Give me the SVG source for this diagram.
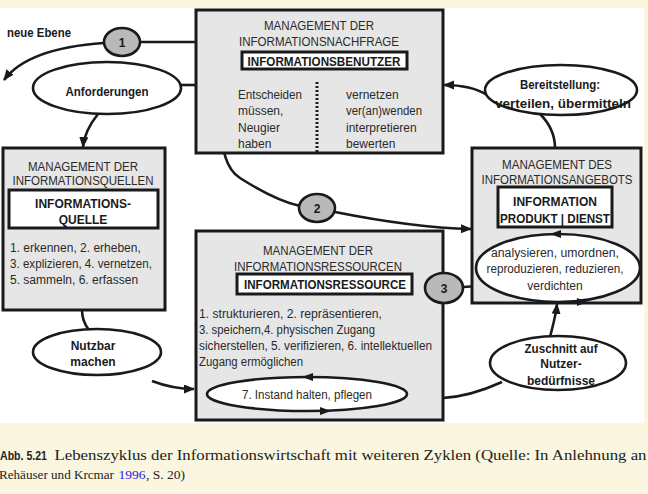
<svg xmlns="http://www.w3.org/2000/svg" width="648" height="494" viewBox="0 0 648 494">
<style>
text{font-family:"Liberation Sans",Arial,sans-serif;font-size:12px;fill:#2a2a2a}
.b{font-weight:bold;fill:#1a1a1a}
.c{text-anchor:middle}
.box{fill:#e6e6e6;stroke:#1a1a1a;stroke-width:3}
.inner{fill:#fff;stroke:#1a1a1a;stroke-width:3}
.ell{fill:#fff;stroke:#1a1a1a;stroke-width:2.6}
.num{fill:#b9b9b9;stroke:#1a1a1a;stroke-width:2.6}
.ln{fill:none;stroke:#1a1a1a;stroke-width:2.6}
.ah{fill:#1a1a1a}
.cap{font-family:"Liberation Serif","Times New Roman",serif;font-size:14px;fill:#222}
.cap2{font-family:"Liberation Serif","Times New Roman",serif;font-size:13.5px;fill:#222}
</style>
<defs>
<marker id="arr" markerUnits="userSpaceOnUse" markerWidth="12" markerHeight="10" refX="10" refY="4.5" orient="auto">
<path d="M0,0 L11,4.5 L0,9 z" fill="#1a1a1a"/>
</marker>
</defs>
<rect x="0" y="0" width="648" height="494" fill="#faf6e0"/>
<rect x="0" y="8" width="644" height="415" fill="#ffffff"/>

<g id="connectors">
<path class="ln" d="M140 42 L196 42"/>
<path class="ln" d="M104 43 C60 46,22 56,4 80" marker-end="url(#arr)"/>
<path class="ln" d="M181 85 L196 85"/>
<path class="ln" d="M98 114 C90 124,84 134,83 147" marker-end="url(#arr)"/>
<path class="ln" d="M487 95 C476 88,462 85,444 85" marker-end="url(#arr)"/>
<path class="ln" d="M540 114 C550 124,555 136,555 148"/>
<path class="ln" d="M243 69 C220 95,212 160,240 178 C262 192,282 202,300 206"/>
<path class="ln" d="M335 212 C385 222,430 228,471 229" marker-end="url(#arr)"/>
<path class="ln" d="M463 287 L479 286"/>
<path class="ln" d="M430 297 C424 301,419 306,417 316" marker-end="url(#arr)"/>
<path class="ln" d="M82 310 C82 318,85 325,89 330"/>
<path class="ln" d="M152 381 C165 386,178 389,194 389" marker-end="url(#arr)"/>
<path class="ln" d="M502 382 C480 392,460 397,443 398"/>
<path class="ln" d="M550 337 C553 325,556 315,557 304" marker-end="url(#arr)"/>
</g>

<g id="n-circle1">
<ellipse class="num" cx="122" cy="42" rx="18" ry="14"/>
<text class="b c" x="122" y="46.5">1</text>
</g>
<text id="t-neue-ebene" class="b" x="7" y="36.5" textLength="64" lengthAdjust="spacingAndGlyphs">neue Ebene</text>

<g id="n-anforderungen">
<ellipse class="ell" cx="107" cy="88" rx="74" ry="26"/>
<text class="b c" x="107" y="95.5" textLength="83" lengthAdjust="spacingAndGlyphs">Anforderungen</text>
</g>

<g id="n-nachfrage">
<rect class="box" x="196" y="10" width="247" height="143"/>
<text class="c" x="319" y="29.5" textLength="110" lengthAdjust="spacingAndGlyphs">MANAGEMENT DER</text>
<text class="c" x="319" y="45.5" textLength="160" lengthAdjust="spacingAndGlyphs">INFORMATIONSNACHFRAGE</text>
<rect class="inner" x="242" y="52" width="165" height="17"/>
<text class="b c" x="324" y="65.5" textLength="153" lengthAdjust="spacingAndGlyphs">INFORMATIONSBENUTZER</text>
<text x="238" y="98.5" textLength="64" lengthAdjust="spacingAndGlyphs">Entscheiden</text>
<text x="238" y="115">müssen,</text>
<text x="238" y="131.5">Neugier</text>
<text x="238" y="148">haben</text>
<line x1="317" y1="82" x2="317" y2="152" stroke="#1a1a1a" stroke-width="3" stroke-dasharray="2 2"/>
<text x="346" y="98.5">vernetzen</text>
<text x="346" y="115" textLength="76" lengthAdjust="spacingAndGlyphs">ver(an)wenden</text>
<text x="346" y="131.5">interpretieren</text>
<text x="346" y="148">bewerten</text>
</g>

<g id="n-bereitstellung">
<ellipse class="ell" cx="561" cy="90" rx="76" ry="25"/>
<text class="b c" x="560" y="88.5" textLength="80" lengthAdjust="spacingAndGlyphs">Bereitstellung:</text>
<text class="b c" x="563" y="107.5" textLength="136" lengthAdjust="spacingAndGlyphs">verteilen, übermitteln</text>
</g>

<g id="n-quellen">
<rect class="box" x="3" y="148" width="162" height="162"/>
<text class="c" x="83" y="170.5" textLength="110" lengthAdjust="spacingAndGlyphs">MANAGEMENT DER</text>
<text class="c" x="83" y="184.5" textLength="141" lengthAdjust="spacingAndGlyphs">INFORMATIONSQUELLEN</text>
<rect class="inner" x="9" y="190" width="149" height="38"/>
<text class="b c" x="83" y="208">INFORMATIONS-</text>
<text class="b c" x="83" y="223.5">QUELLE</text>
<text x="10" y="251.5">1. erkennen, 2. erheben,</text>
<text x="10" y="267.5" textLength="142" lengthAdjust="spacingAndGlyphs">3. explizieren, 4. vernetzen,</text>
<text x="10" y="283.5">5. sammeln, 6. erfassen</text>
</g>

<g id="n-circle2">
<ellipse class="num" cx="317" cy="208" rx="18" ry="14"/>
<text class="b c" x="317" y="212.5">2</text>
</g>

<g id="n-angebot">
<rect class="box" x="472" y="148" width="169" height="155"/>
<text class="c" x="557" y="168.5" textLength="110" lengthAdjust="spacingAndGlyphs">MANAGEMENT DES</text>
<text class="c" x="557" y="183.5" textLength="151" lengthAdjust="spacingAndGlyphs">INFORMATIONSANGEBOTS</text>
<rect class="inner" x="498" y="187" width="114" height="40"/>
<text class="b c" x="555" y="205.5">INFORMATION</text>
<text class="b c" x="555" y="222.5" textLength="110" lengthAdjust="spacingAndGlyphs">PRODUKT | DIENST</text>
<ellipse class="ell" cx="558" cy="268" rx="82" ry="34"/>
<polygon class="ah" points="550,234 561,230 561,238"/>
<polygon class="ah" points="588,302 577,298 577,306"/>
<text class="c" x="555" y="256.5" textLength="128" lengthAdjust="spacingAndGlyphs">analysieren, umordnen,</text>
<text class="c" x="555" y="272.5" textLength="137" lengthAdjust="spacingAndGlyphs">reproduzieren, reduzieren,</text>
<text class="c" x="555" y="289.5">verdichten</text>
</g>

<g id="n-ressourcen">
<rect class="box" x="196" y="231" width="247" height="189"/>
<text class="c" x="318" y="254.5" textLength="110" lengthAdjust="spacingAndGlyphs">MANAGEMENT DER</text>
<text class="c" x="318" y="270.5" textLength="168" lengthAdjust="spacingAndGlyphs">INFORMATIONSRESSOURCEN</text>
<rect class="inner" x="237" y="274" width="175" height="20"/>
<text class="b c" x="325" y="289" textLength="162" lengthAdjust="spacingAndGlyphs">INFORMATIONSRESSOURCE</text>
<text x="199" y="317.5" textLength="183" lengthAdjust="spacingAndGlyphs">1. strukturieren, 2. repräsentieren,</text>
<text x="199" y="333.5" textLength="176" lengthAdjust="spacingAndGlyphs">3. speichern,4. physischen Zugang</text>
<text x="199" y="349.5" textLength="233" lengthAdjust="spacingAndGlyphs">sicherstellen, 5. verifizieren, 6. intellektuellen</text>
<text x="199" y="365.5" textLength="104" lengthAdjust="spacingAndGlyphs">Zugang ermöglichen</text>
<ellipse class="ell" cx="307" cy="394" rx="100" ry="17"/>
<polygon class="ah" points="302,377 313,373 313,381"/>
<polygon class="ah" points="331,411 320,407 320,415"/>
<text class="c" x="307" y="398.5" textLength="130" lengthAdjust="spacingAndGlyphs">7. Instand halten, pflegen</text>
</g>

<g id="n-circle3">
<ellipse class="num" cx="444" cy="288" rx="19" ry="15"/>
<text class="b c" x="444" y="292.5">3</text>
</g>

<g id="n-nutzbar">
<ellipse class="ell" cx="97" cy="352" rx="64" ry="23"/>
<text class="b c" x="93" y="349.5">Nutzbar</text>
<text class="b c" x="93" y="365.5">machen</text>
</g>

<g id="n-zuschnitt">
<ellipse class="ell" cx="558" cy="363" rx="68" ry="27"/>
<text class="b c" x="561" y="352.5" textLength="73" lengthAdjust="spacingAndGlyphs">Zuschnitt auf</text>
<text class="b c" x="561" y="367.5">Nutzer-</text>
<text class="b c" x="561" y="384.5">bedürfnisse</text>
</g>

<g id="caption">
<text x="0" y="460" style="font-weight:bold;font-size:13.5px;fill:#222" textLength="47" lengthAdjust="spacingAndGlyphs">Abb. 5.21</text>
<text class="cap" x="54.5" y="460" textLength="592" lengthAdjust="spacingAndGlyphs">Lebenszyklus der Informationswirtschaft mit weiteren Zyklen (Quelle: In Anlehnung an</text>
<text class="cap2" x="-1" y="478.5" textLength="115" lengthAdjust="spacingAndGlyphs">Rehäuser und Krcmar</text>
<text class="cap2" x="118.5" y="478.5" style="fill:#2222ee">1996</text>
<text class="cap2" x="146" y="478.5">, S. 20)</text>
</g>
</svg>
